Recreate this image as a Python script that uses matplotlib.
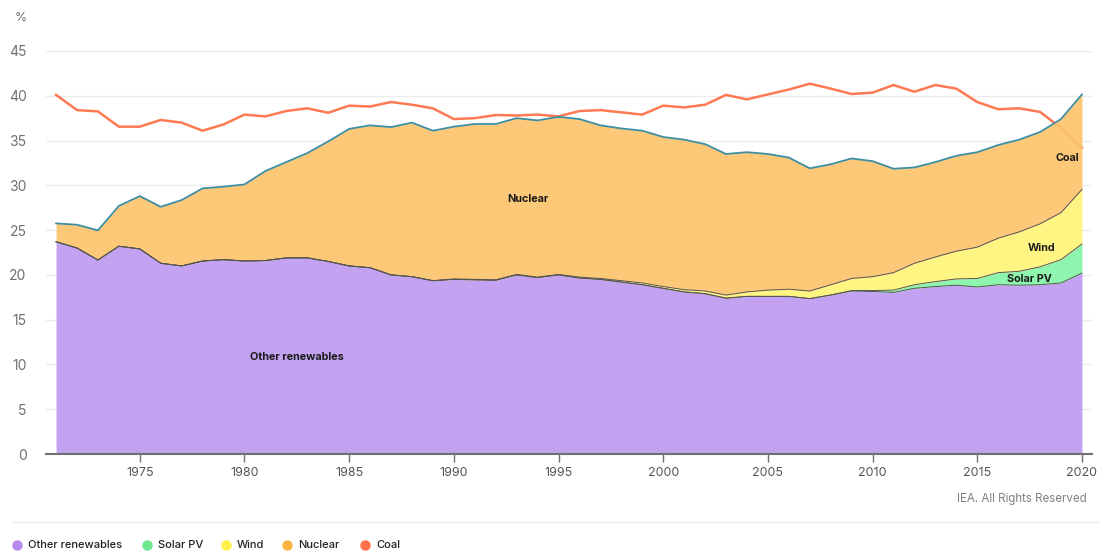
import numpy as np
from matplotlib import pyplot as plt

years = list(range(1971, 2021))

other_renewables = [23.7, 23.0, 21.66, 23.2, 22.9, 21.3, 21.0, 21.55, 21.7, 21.55,
                    21.6, 21.9, 21.9, 21.5, 21.0, 20.8, 20.0, 19.8, 19.35, 19.5,
                    19.45, 19.4, 20.0, 19.7, 20.0, 19.65, 19.5, 19.2, 18.9, 18.5,
                    18.1, 17.9, 17.4, 17.6, 17.6, 17.6, 17.35, 17.75, 18.2, 18.15,
                    18.05, 18.5, 18.7, 18.85, 18.65, 18.9, 18.85, 18.9, 19.1, 20.2]
solar_pv = [0.0] * 38 + [0.05, 0.1, 0.25, 0.4, 0.55, 0.7, 0.95, 1.35, 1.55, 2.0, 2.6, 3.25]
wind = ([0.0] * 19 + [0.05, 0.05, 0.05, 0.05, 0.05, 0.05, 0.1, 0.1, 0.15, 0.2, 0.2,
                      0.25, 0.3, 0.35, 0.5, 0.7, 0.8, 0.85, 1.15, 1.35, 1.55,
                      1.95, 2.4, 2.75, 3.1, 3.5, 3.85, 4.4, 4.8, 5.25, 6.1])
nuclear = [2.05, 2.6, 3.31, 4.5, 5.9, 6.3, 7.36, 8.11, 8.15, 8.55,
           10.0, 10.7, 11.7, 13.4, 15.3, 15.9, 16.5, 17.2, 16.75, 17.0,
           17.35, 17.4, 17.45, 17.5, 17.6, 17.65, 17.1, 17.0, 17.0, 16.7,
           16.75, 16.4, 15.75, 15.6, 15.2, 14.7, 13.7, 13.45, 13.4, 12.9,
           11.6, 10.7, 10.6, 10.65, 10.6, 10.4, 10.3, 10.25, 10.45, 10.6]
coal = [40.1, 38.4, 38.26, 36.55, 36.55, 37.3, 37.0, 36.1, 36.8, 37.9,
        37.7, 38.3, 38.6, 38.1, 38.9, 38.8, 39.3, 39.0, 38.6, 37.4,
        37.5, 37.85, 37.8, 37.9, 37.7, 38.3, 38.4, 38.15, 37.9, 38.9,
        38.7, 39.0, 40.1, 39.6, 40.15, 40.7, 41.35, 40.8, 40.2, 40.35,
        41.2, 40.45, 41.2, 40.8, 39.3, 38.5, 38.6, 38.2, 36.4, 34.2]

series_names = ["Other renewables", "Solar PV", "Wind", "Nuclear", "Coal"]
fill_colors = ["#c3a3f1", "#8ef5ae", "#fff582", "#fdc56d"]
dot_colors = ["#b78bee", "#6de891", "#fff04a", "#fdb446", "#ff7249"]
coal_color = "#ff7a52"

plt.rcParams['font.family'] = ['Inter', 'DejaVu Sans']

fig = plt.figure(figsize=(10.99, 5.52), dpi=100)
ax = fig.add_axes([46 / 1099, 1 - 454 / 552, 1046 / 1099, 403 / 552])

x = np.array(years)
stack = [np.array(other_renewables), np.array(solar_pv), np.array(wind), np.array(nuclear)]

ax.plot(x, coal, color=coal_color, lw=1.8, zorder=1.5)

base = np.zeros(len(years))
for i, s in enumerate(stack):
    top = base + s
    ax.fill_between(x, base, top, color=fill_colors[i], lw=0, zorder=2,
                    alpha=0.92 if i == 3 else 1)
    base = top
# boundaries
b = np.zeros(len(years))
for s in stack[:-1]:
    b = b + s
    ax.plot(x, b, color="#555555", lw=0.7, zorder=3)
ax.plot(x, base, color="#3d8ea3", lw=1.3, zorder=4)

ax.set_xlim(1970.52, 2020.48)
ax.set_ylim(0, 45)
ax.set_yticks(range(0, 50, 5))
ax.set_xticks(range(1975, 2021, 5))
ax.grid(axis='y', color="#ececec", lw=1, zorder=0)
ax.set_axisbelow(True)
for side in ['top', 'right', 'left']:
    ax.spines[side].set_visible(False)
ax.spines['bottom'].set_color("#707070")
ax.spines['bottom'].set_linewidth(1.5)
ax.spines['bottom'].set_zorder(6)
ax.tick_params(axis='y', length=0, pad=14, labelsize=10, labelcolor="#707070")
ax.tick_params(axis='x', length=6, width=1, color="#707070", labelsize=9,
               labelcolor="#555555", pad=3)
for t in ax.get_yticklabels():
    t.set_horizontalalignment('right')

fig.text(15 / 1099, 1 - 18 / 552, "%", fontsize=9, color="#707070", va='center')

lab = dict(fontsize=7.8, fontweight='bold', color="#1a1a1a", ha='center', va='center', zorder=7)
ax.text(1982.5, 10.83, "Other renewables", **lab)
ax.text(1993.54, 28.47, "Nuclear", **lab)
ax.text(2018.05, 23.0, "Wind", **lab)
ax.text(2017.47, 19.54, "Solar PV", **lab)
ax.text(2019.3, 33.05, "Coal", **lab)

fig.text(1087 / 1099, 1 - 499 / 552, "IEA. All Rights Reserved", fontsize=8.3,
         color="#808080", ha='right', va='center')
fig.add_artist(plt.Line2D([12 / 1099, 1], [1 - 522 / 552] * 2, color="#eeeeee", lw=1))

lx = [17, 147, 226, 287, 365]
for px, name, c in zip(lx, series_names, dot_colors):
    fig.add_artist(plt.Line2D([px / 1099], [1 - 545 / 552], marker='o', ms=6.5,
                              color=c, lw=0))
    fig.text((px + 11) / 1099, 1 - 545 / 552, name, fontsize=8, color="#222222",
             va='center', fontweight='medium')

fig.savefig("out.png", dpi=100)
